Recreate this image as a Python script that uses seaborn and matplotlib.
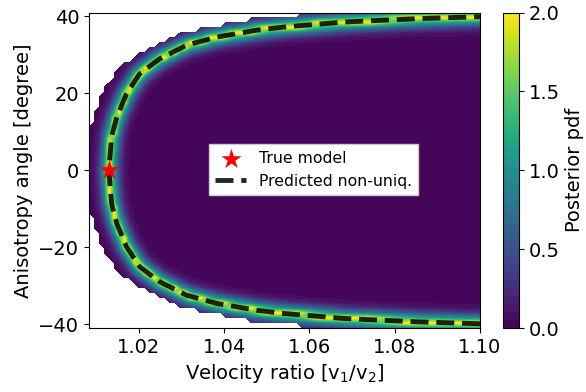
import numpy as np
import pandas as pd
import seaborn as sns
import matplotlib.pyplot as plt

# predicted non-uniqueness curve, upper branch
# (the lower branch is its mirror image)
angle_up = np.array([0.0, 3.4, 8.7, 13.8, 19.9, 25.1, 29.0, 32.5, 34.6, 36.4, 37.2, 38.5, 39.4, 39.9])
ratio_up = np.array([1.0130, 1.0132, 1.0136, 1.0148, 1.0171, 1.0202, 1.0249, 1.0312,
                     1.0382, 1.0476, 1.0538, 1.0678, 1.0851, 1.1000])

true_ratio = [1.013]
true_angle = [0.0]

cbar_ticks = [0.0, 0.5, 1.0, 1.5, 2.0]
x_range = (1.0083, 1.10)
y_range = (-41.0, 41.0)

plt.rcParams["font.size"] = 14

angle = np.concatenate([-angle_up[::-1], angle_up[1:]])
ratio = np.concatenate([ratio_up[::-1], ratio_up[1:]])
df_curve = pd.DataFrame({"ratio": ratio, "angle": angle})

# -----------------------------------------
# posterior field: ridge along the curve on a coarse grid
# -----------------------------------------
sx = 391 / (x_range[1] - x_range[0])   # px per unit ratio
sy = 315.5 / (y_range[1] - y_range[0])  # px per degree

gx = np.linspace(x_range[0], x_range[1], 78)
gy = np.linspace(y_range[0], y_range[1], 64)
X, Y = np.meshgrid(gx, gy)


def seg_dist(px, py, cx, cy):
    ax_, ay_ = cx[:-1], cy[:-1]
    bx, by = cx[1:], cy[1:]
    dx, dy = bx - ax_, by - ay_
    p_x = px.ravel()[:, None]
    p_y = py.ravel()[:, None]
    t = ((p_x - ax_) * dx + (p_y - ay_) * dy) / (dx ** 2 + dy ** 2)
    t = np.clip(t, 0, 1)
    qx = ax_ + t * dx
    qy = ay_ + t * dy
    d = np.sqrt((p_x - qx) ** 2 + (p_y - qy) ** 2).min(axis=1)
    return d.reshape(px.shape)


d = seg_dist(X * sx, Y * sy, ratio * sx, angle * sy)
d_edge = seg_dist(X * sx * 0.5, Y * sy, ratio * sx * 0.5, angle * sy)
inside = X > np.interp(Y, angle, ratio)

halo = 1.35 * np.exp(-d ** 2 / (2 * 6.0 ** 2))
core = 1.2 * np.exp(-d ** 2 / (2 * 1.5 ** 2))
pdf = np.clip(0.03 + halo + core, 0, 1.999)
Z = np.ma.masked_where((~inside) & (d_edge > 13), pdf)

# -----------------------------------------
# figure
# -----------------------------------------
fig = plt.figure(figsize=(5.86, 3.92), dpi=100)
ax = fig.add_axes([89 / 586, 64 / 392, 391 / 586, 315.5 / 392])
cax = fig.add_axes([503 / 586, 64 / 392, 16 / 586, 315.5 / 392])

cs = ax.contourf(X, Y, Z, levels=np.linspace(0, 2, 41), cmap="viridis", vmin=0, vmax=2)

sns.lineplot(data=df_curve, x="ratio", y="angle", sort=False, estimator=None,
             color="black", linewidth=3.5, linestyle="--", alpha=0.85,
             label="Predicted non-uniq.", ax=ax)
sns.scatterplot(x=true_ratio, y=true_angle, marker="*", s=230, color="red",
                linewidth=0, label="True model", zorder=5, ax=ax)

ax.set_xlim(x_range)
ax.set_ylim(y_range)
ax.set_xticks([1.02, 1.04, 1.06, 1.08, 1.10])
ax.set_yticks([-40, -20, 0, 20, 40])
ax.set_xlabel("Velocity ratio [v$_1$/v$_2$]")
ax.set_ylabel("Anisotropy angle [degree]")

handles, labels = ax.get_legend_handles_labels()
ax.legend(handles[::-1], labels[::-1], loc="center", bbox_to_anchor=(0.574, 0.502),
          framealpha=1, fancybox=False, fontsize=11.3)

cbar = fig.colorbar(cs, cax=cax, ticks=cbar_ticks)
cbar.set_label("Posterior pdf")

plt.savefig("out.png", dpi=100)
